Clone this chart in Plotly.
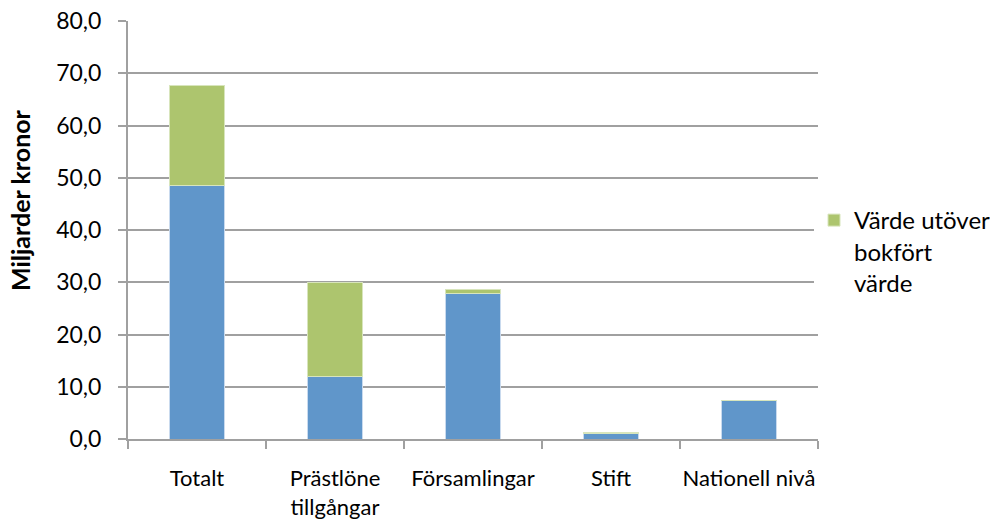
import plotly.graph_objects as go

categories = ["Totalt", "Prästlöne<br>tillgångar", "Församlingar", "Stift", "Nationell nivå"]
bokfort = [48.5, 12.0, 27.9, 1.1, 7.3]
utover = [19.1, 18.0, 0.8, 0.1, 0.0]
y_ticks = [0, 10, 20, 30, 40, 50, 60, 70, 80]
y_tick_labels = ["0,0", "10,0", "20,0", "30,0", "40,0", "50,0", "60,0", "70,0", "80,0"]
y_title = "Miljarder kronor"

FONT = "Lato"
W, H = 990, 519
L, R, T, B = 128, 172, 21, 80

fig = go.Figure()
fig.add_trace(go.Bar(x=categories, y=bokfort, name="Bokfört värde",
                     marker=dict(color="#6096CA", line=dict(color="#C9DAEE", width=1)),
                     showlegend=False))
fig.add_trace(go.Bar(x=categories, y=utover, name="Värde utöver<br>bokfört<br>värde",
                     marker=dict(color="#ADC56E", line=dict(color="#D8E5BC", width=1))))

pw = W - L - R
ph = H - T - B
fig.update_layout(
    barmode="stack",
    bargap=0.6,
    width=W, height=H,
    margin=dict(l=L, r=R, t=T, b=B, autoexpand=False),
    plot_bgcolor="white", paper_bgcolor="white",
    font=dict(family=FONT, color="#000000"),
    legend=dict(x=(814 - L) / pw, y=(H - B - 198) / ph, xanchor="left", yanchor="top", valign="top",
                font=dict(size=24, family=FONT), itemwidth=30, tracegroupgap=0),
    annotations=[dict(text="<b>" + y_title + "</b>", textangle=-90, showarrow=False,
                      xref="paper", yref="paper",
                      x=(20 - L) / pw, y=(H - B - 200) / ph,
                      xanchor="center", yanchor="middle",
                      font=dict(size=25, family=FONT, color="#000000"))],
)
fig.update_xaxes(
    type="category",
    showline=True, linecolor="#A0A0A0", linewidth=2,
    ticks="outside", tickson="boundaries", ticklen=8, tickcolor="#A0A0A0", tickwidth=2,
    tickfont=dict(size=22, family=FONT),
    tickangle=0, automargin=False,
    ticklabelstandoff=19,
    showgrid=False,
)
fig.update_yaxes(
    range=[0, 80], tickvals=y_ticks, ticktext=y_tick_labels,
    showline=True, linecolor="#A0A0A0", linewidth=2,
    ticks="outside", ticklen=8, tickcolor="#A0A0A0", tickwidth=2,
    tickfont=dict(size=23, family=FONT),
    ticklabelstandoff=12, ticklabeloverflow="allow", automargin=False,
    showgrid=True, gridcolor="#A0A0A0", gridwidth=2,
    zeroline=False,
)

fig.write_html("out.html", config={"displayModeBar": False},
               post_script="document.body.style.margin='0';document.body.style.overflow='hidden';")
